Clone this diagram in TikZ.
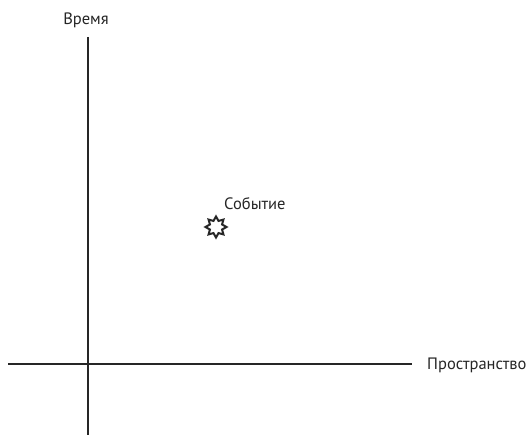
\documentclass[tikz,border=0pt]{standalone}
\usepackage{fontspec}
\setmainfont{PT Sans}
\usetikzlibrary{shapes.geometric}
\begin{document}
\begin{tikzpicture}[x=1pt,y=-1pt,
  axis/.style={line width=1.6pt,draw=black!85},
  lbl/.style={font=\fontsize{16.5}{19}\selectfont,text=black!85,inner sep=0pt},
  ev/.style={star,star points=8,star point ratio=1.6,minimum size=21pt,inner sep=0pt,draw=black!85,line width=2pt}]
\useasboundingbox (0,0) rectangle (532,435);
\coordinate (vt) at (88,37);
\coordinate (vb) at (88,435);
\coordinate (hl) at (8,364);
\coordinate (hr) at (412,364);
\draw[axis] (vt) -- (vb);
\draw[axis] (hl) -- (hr);
\node[lbl,anchor=base] (time) at (86,25) {Время};
\node[lbl,anchor=base west] (space) at (427,369) {Пространство};
\node[lbl,anchor=base west] (evt) at (224,210) {Событие};
\node[ev] (star) at (216,227) {};
\end{tikzpicture}
\end{document}
